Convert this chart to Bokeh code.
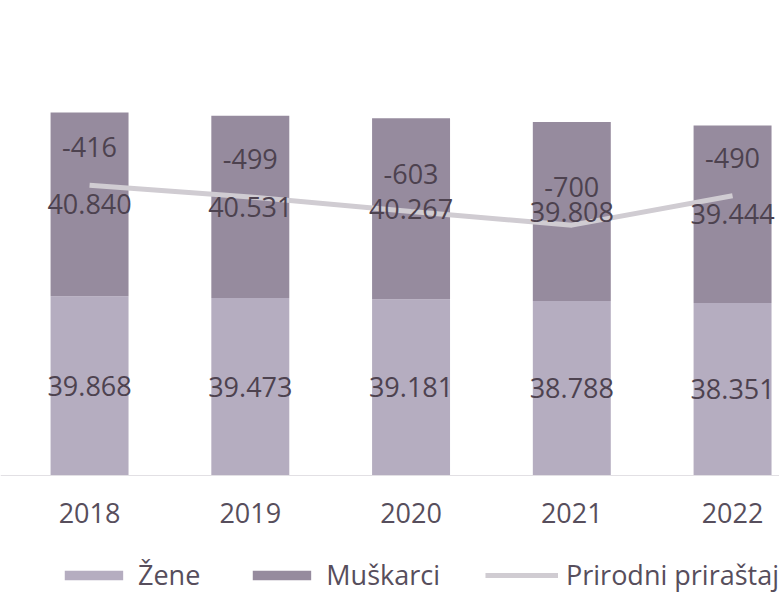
from bokeh.plotting import figure
from bokeh.models import (ColumnDataSource, Range1d, FixedTicker, Legend, LegendItem)
from bokeh.embed import file_html
from bokeh.resources import INLINE
from bokeh.core.properties import value

# ---- data ----
years = ["2018", "2019", "2020", "2021", "2022"]
zene = [39868, 39473, 39181, 38788, 38351]
muskarci = [40840, 40531, 40267, 39808, 39444]
prirodni_prirastaj = [-416, -499, -603, -700, -490]

# ---- styles ----
C_ZENE = "#b5adc0"
C_MUSK = "#968b9e"
C_LINE = "#d0ccd2"
C_LABEL = "#4d424f"
C_AXIS = "#574e5c"
FONT = "Open Sans"


def fmt(v):
    return f"{v:,}".replace(",", ".")


xs = list(range(len(years)))
tops = [z + m for z, m in zip(zene, muskarci)]
src = ColumnDataSource(dict(
    x=xs,
    zene=zene,
    musk=muskarci,
    top=tops,
    zmid=[z / 2 for z in zene],
    mmid=[z + m / 2 for z, m in zip(zene, muskarci)],
    zlab=[fmt(v) for v in zene],
    mlab=[fmt(v) for v in muskarci],
    pr=prirodni_prirastaj,
    prlab=[str(v) for v in prirodni_prirastaj],
))

p = figure(width=779, height=593,
           x_range=Range1d(-0.554, 4.292), y_range=Range1d(-26236, 105609),
           y_axis_location=None,
           output_backend="svg", toolbar_location=None,
           min_border_left=0, min_border_right=0, min_border_top=0,
           min_border_bottom=0)
p.extra_y_ranges = {"pr": Range1d(-3325, 901)}
p.outline_line_color = None
p.xgrid.visible = False
p.ygrid.visible = False
p.background_fill_color = "white"

bw = 0.485
r_z = p.vbar(x="x", width=bw, bottom=0, top="zene", source=src,
             fill_color=C_ZENE, line_color=None)
r_m = p.vbar(x="x", width=bw, bottom="zene", top="top", source=src,
             fill_color=C_MUSK, line_color=None)
r_l = p.line(x="x", y="pr", source=src, y_range_name="pr",
             line_color=C_LINE, line_width=5)

common = dict(text_align="center", text_baseline="middle",
              text_font=value(FONT), text_font_size="27px", text_color=C_LABEL)
p.text(x="x", y="zmid", text="zlab", source=src, **common)
p.text(x="x", y="mmid", text="mlab", source=src, **common)
p.text(x="x", y="pr", text="prlab", source=src, y_range_name="pr",
       y_offset=-38, **common)

ax = p.xaxis[0]
ax.fixed_location = 0
ax.ticker = FixedTicker(ticks=xs)
ax.major_label_overrides = {i: y for i, y in zip(xs, years)}
ax.axis_line_color = "#e2e0e4"
ax.major_tick_line_color = None
ax.minor_tick_line_color = None
ax.major_label_text_font = FONT
ax.major_label_text_font_size = "27px"
ax.major_label_text_color = C_AXIS
ax.major_label_standoff = 22

legend = Legend(items=[
    LegendItem(label="Žene", renderers=[r_z]),
    LegendItem(label="Muškarci", renderers=[r_m]),
    LegendItem(label="Prirodni priraštaj", renderers=[r_l]),
], orientation="horizontal", location="bottom_right",
    glyph_width=73, glyph_height=12, label_standoff=8, spacing=45,
    label_text_font=FONT, label_text_font_size="27px",
    label_text_color=C_AXIS, border_line_color=None,
    background_fill_alpha=0, padding=0, margin=0)
p.add_layout(legend)

open("out.html", "w").write(file_html(p, INLINE))
